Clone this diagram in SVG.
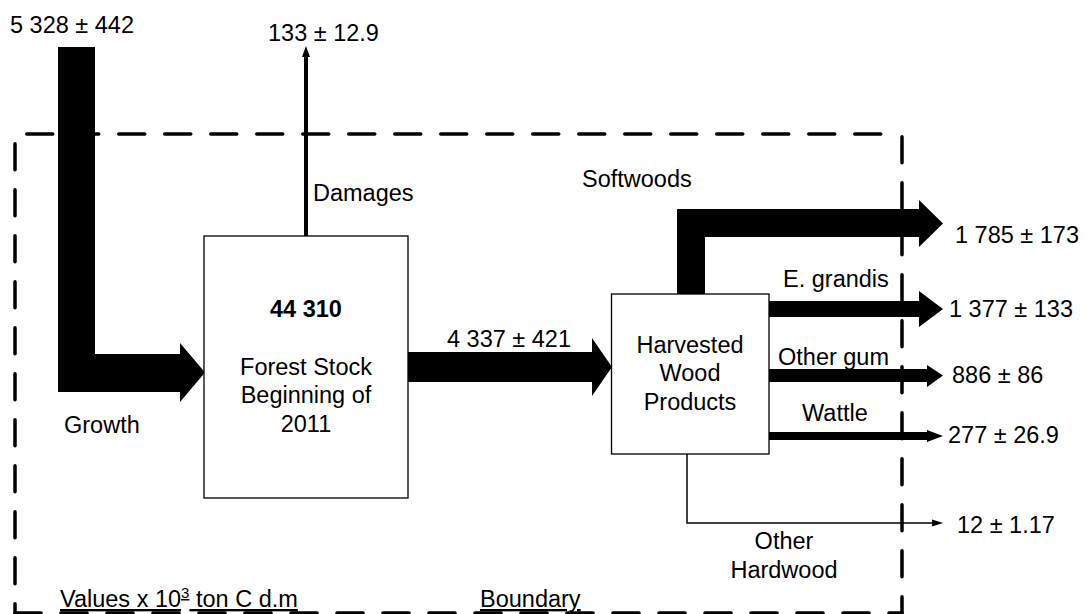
<svg xmlns="http://www.w3.org/2000/svg" width="1088" height="614" viewBox="0 0 1088 614">
<style>
text{font-family:"Liberation Sans",Arial,sans-serif;font-size:23.5px;fill:#000}
.b{font-weight:bold}
.m{text-anchor:middle}
.box{fill:#fff;stroke:#000;stroke-width:1.3}
.flow{fill:#000;stroke:none}
.dash{fill:none;stroke:#000;stroke-width:3.5;stroke-dasharray:26 20;stroke-linecap:round}
.thin{fill:none;stroke:#000;stroke-width:1.5}
.u{text-decoration:underline}
</style>
<g id="boundary">
<path class="dash" d="M26.75,134 H886"/>
<path class="dash" d="M902,136.75 V613"/>
<path class="dash" d="M15,143.75 V613"/>
<path class="dash" d="M15,613 H902"/>
</g>
<g id="connectors">
<polygon class="flow" points="58,47 95,47 95,354 180,354 180,343 205,372.5 180,402 180,392 58,392"/>
<line x1="306" y1="236" x2="306" y2="54" stroke="#000" stroke-width="4"/>
<polygon class="flow" points="302,57 306,46 310,57"/>
<polygon class="flow" points="408,352 592,352 592,338 612,367 592,396 592,382 408,382"/>
<polygon class="flow" points="677,294 677,209 919,209 919,200 943,223.5 919,247 919,237 705,237 705,294"/>
<polygon class="flow" points="769,301 919,301 919,291 943,309 919,327 919,317 769,317"/>
<polygon class="flow" points="769,369 927,369 927,365 943,375.5 927,387 927,382 769,382"/>
<polygon class="flow" points="769,432 927,432 927,430 943,436 927,442 927,440 769,440"/>
<path class="thin" d="M687,454 V523 H934"/>
<polygon class="flow" points="932,519.5 943,523 932,526.5"/>
</g>
<g id="forest-stock">
<rect class="box" x="204" y="236" width="204" height="262"/>
<text class="b m" x="306" y="317">44 310</text>
<text class="m" x="306" y="375">Forest Stock</text>
<text class="m" x="306" y="403">Beginning of</text>
<text class="m" x="306" y="432">2011</text>
</g>
<g id="hwp">
<rect class="box" x="611.5" y="294" width="157.5" height="160"/>
<text class="m" x="690" y="353">Harvested</text>
<text class="m" x="690" y="381">Wood</text>
<text class="m" x="690" y="410">Products</text>
</g>
<g id="labels">
<text x="10" y="33">5 328 ± 442</text>
<text x="268" y="41">133 ± 12.9</text>
<text x="313" y="201">Damages</text>
<text x="64" y="433">Growth</text>
<text class="m" x="509" y="347">4 337 ± 421</text>
<text x="582" y="187">Softwoods</text>
<text x="955" y="243">1 785 ± 173</text>
<text x="783" y="287">E. grandis</text>
<text x="949" y="317">1 377 ± 133</text>
<text x="778" y="365">Other gum</text>
<text x="952" y="383">886 ± 86</text>
<text x="802" y="421">Wattle</text>
<text x="948" y="443">277 ± 26.9</text>
<text x="957" y="533">12 ± 1.17</text>
<text class="m" x="784" y="549">Other</text>
<text class="m" x="784" y="578">Hardwood</text>
<text class="u" x="60" y="607">Values x 10<tspan dy="-9" font-size="15">3</tspan><tspan dy="9"> ton C d.m</tspan></text>
<text class="u" x="480" y="607">Boundary</text>
</g>
</svg>
